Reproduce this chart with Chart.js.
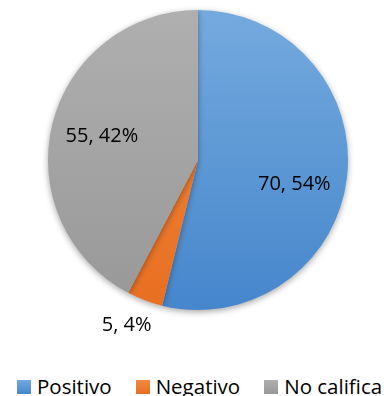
<!DOCTYPE html>
<html>
  <script src="https://cdn.jsdelivr.net/npm/chart.js@4.4.0/dist/chart.umd.min.js"></script>
  <style>
    html, body {
      margin: 0;
      padding: 0;
      background: #fff;
      overflow: hidden;
    }
    .wrap {
      position: relative;
      width: 388px;
      height: 396px;
      overflow: hidden;
    }
    #pie {
      display: block;
    }
    #legend {
      position: absolute;
      left: 17px;
      top: 372px;
      display: flex;
      white-space: nowrap;
      font-family: "Open Sans", sans-serif;
      font-size: 20.5px;
      line-height: 28px;
      color: #000;
    }
    #legend .item {
      display: flex;
      align-items: center;
      margin-right: 24px;
    }
    #legend .box {
      width: 14px;
      height: 14px;
      margin-right: 6px;
      margin-top: 2px;
    }
  </style>
  <body>
    <div class="wrap">
      <canvas id="pie" width="388" height="345"></canvas>
      <div id="legend"></div>
    </div>

    <script>
      let categories = ["Positivo", "Negativo", "No califica"];
      let values = [70, 5, 55];
      let percents = [54, 4, 42];

      // top / bottom colours of each slice (Excel style shading)
      let topColors = ["#74aade", "#f08a40", "#afafaf"];
      let bottomColors = ["#4686cc", "#e86f22", "#989898"];
      let labelRadius = [0.66, 1.19, 0.66];
      let labelShiftX = [-2, -8, 0];
      let labelShiftY = [12, -2, 0];

      function sliceFill(ctx) {
        let chart = ctx.chart;
        let area = chart.chartArea;
        if (!area) return topColors[ctx.dataIndex];
        let g = chart.ctx.createLinearGradient(0, area.top, 0, area.bottom);
        g.addColorStop(0, topColors[ctx.dataIndex]);
        g.addColorStop(1, bottomColors[ctx.dataIndex]);
        return g;
      }

      let shadowPlugin = {
        id: "shadow",
        beforeDatasetsDraw: function (chart) {
          let c = chart.ctx;
          c.save();
          c.shadowColor = "rgba(0,0,0,0.35)";
          c.shadowBlur = 6;
          c.shadowOffsetY = 2;
        },
        afterDatasetsDraw: function (chart) {
          chart.ctx.restore();
        },
      };

      let labelPlugin = {
        id: "sliceLabels",
        afterDraw: function (chart) {
          let c = chart.ctx;
          let meta = chart.getDatasetMeta(0);
          c.save();
          c.font = "20px 'Open Sans', sans-serif";
          c.fillStyle = "#000";
          c.textAlign = "center";
          c.textBaseline = "middle";
          meta.data.forEach(function (arc, i) {
            let p = arc.getProps(["x", "y", "startAngle", "endAngle", "outerRadius"], true);
            let mid = (p.startAngle + p.endAngle) / 2;
            let r = p.outerRadius * labelRadius[i];
            let x = p.x + Math.cos(mid) * r + labelShiftX[i];
            let y = p.y + Math.sin(mid) * r + labelShiftY[i];
            c.fillText(values[i] + ", " + percents[i] + "%", x, y);
          });
          c.restore();
        },
      };

      // html legend, built from the chart's labels
      let htmlLegend = {
        id: "htmlLegend",
        afterUpdate: function (chart) {
          let box = document.getElementById("legend");
          box.innerHTML = "";
          chart.data.labels.forEach(function (name, i) {
            let item = document.createElement("span");
            item.className = "item";
            let sw = document.createElement("span");
            sw.className = "box";
            sw.style.background =
              "linear-gradient(" + topColors[i] + ", " + bottomColors[i] + ")";
            let txt = document.createElement("span");
            txt.textContent = name;
            item.appendChild(sw);
            item.appendChild(txt);
            box.appendChild(item);
          });
        },
      };

      new Chart(document.getElementById("pie"), {
        type: "pie",
        data: {
          labels: categories,
          datasets: [
            {
              data: values,
              backgroundColor: sliceFill,
              borderWidth: 0,
            },
          ],
        },
        options: {
          responsive: false,
          animation: false,
          layout: {
            padding: { top: 10, bottom: 35, left: 8, right: 0 },
          },
          plugins: {
            tooltip: { enabled: false },
            legend: { display: false },
          },
        },
        plugins: [shadowPlugin, labelPlugin, htmlLegend],
      });
    </script>
  </body>
</html>
